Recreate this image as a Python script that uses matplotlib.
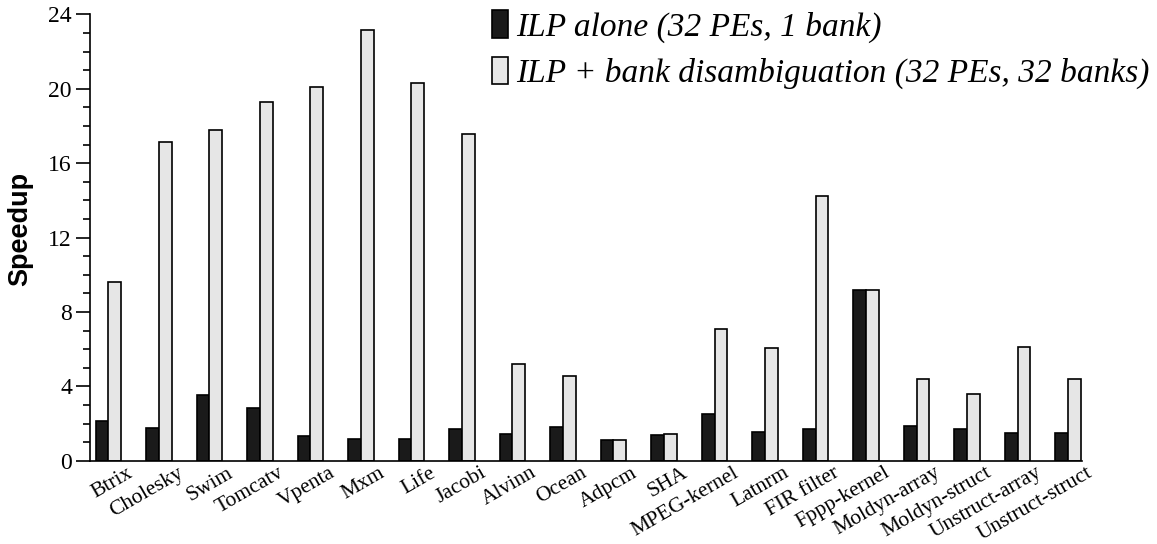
import numpy as np
import matplotlib
matplotlib.use('Agg')
import matplotlib.pyplot as plt
from matplotlib.patches import Patch
from matplotlib.ticker import MultipleLocator
from matplotlib.transforms import ScaledTranslation

# benchmarks and speedups
benchmarks = ['Btrix', 'Cholesky', 'Swim', 'Tomcatv', 'Vpenta', 'Mxm', 'Life',
              'Jacobi', 'Alvinn', 'Ocean', 'Adpcm', 'SHA', 'MPEG-kernel',
              'Latnrm', 'FIR filter', 'Fppp-kernel', 'Moldyn-array',
              'Moldyn-struct', 'Unstruct-array', 'Unstruct-struct']
ilp_alone = [2.12, 1.77, 3.52, 2.82, 1.34, 1.15, 1.17, 1.69, 1.45, 1.80,
             1.13, 1.38, 2.49, 1.53, 1.70, 9.16, 1.87, 1.69, 1.47, 1.47]
ilp_bank = [9.62, 17.15, 17.80, 19.28, 20.10, 23.17, 20.28, 17.57, 5.22, 4.53,
            1.13, 1.43, 7.06, 6.06, 14.25, 9.16, 4.39, 3.59, 6.11, 4.40]
labels = ['ILP alone (32 PEs, 1 bank)',
          'ILP + bank disambiguation (32 PEs, 32 banks)']

W, H = 1157, 544
fig = plt.figure(figsize=(W / 100, H / 100), dpi=100)
ax = fig.add_axes([90 / W, (H - 460.7) / H, 992 / W, 446.4 / H])

x = np.arange(len(benchmarks))
bw = 0.254
dark = '#1a1a1a'
light = '#e6e6e6'
ax.bar(x - bw / 2, ilp_alone, bw, color=dark, edgecolor='black', linewidth=1.2)
ax.bar(x + bw / 2, ilp_bank, bw, color=light, edgecolor='black', linewidth=1.2)

ax.set_xlim(-0.366, 19.277)
ax.set_ylim(0, 24)
ax.yaxis.set_major_locator(MultipleLocator(4))
ax.yaxis.set_minor_locator(MultipleLocator(1))
ax.tick_params(axis='y', which='major', length=10, width=1.2, labelsize=17, pad=3)
ax.tick_params(axis='y', which='minor', length=5, width=1.2)
ax.tick_params(axis='x', length=0, pad=2)
for lbl in ax.get_yticklabels():
    lbl.set_family('Liberation Serif')

ax.set_xticks(x)
ax.set_xticklabels(benchmarks, rotation=30, ha='right', rotation_mode='anchor',
                   fontsize=15.5, family='Liberation Serif')
offset = ScaledTranslation(0.18, 0, fig.dpi_scale_trans)
for lbl in ax.get_xticklabels():
    lbl.set_transform(lbl.get_transform() + offset)

ax.spines['top'].set_visible(False)
ax.spines['right'].set_visible(False)
ax.spines['left'].set_linewidth(1.2)
ax.spines['bottom'].set_linewidth(1.2)

ax.set_ylabel('Speedup', fontsize=19.5, fontweight='bold', family='Liberation Sans')
ax.yaxis.set_label_coords(-57 / 992, 0.52)

handles = [Patch(facecolor=dark, edgecolor='black', linewidth=1.2),
           Patch(facecolor=light, edgecolor='black', linewidth=1.2)]
fig.legend(handles, labels, loc='upper left', bbox_to_anchor=(492 / W, 1 - 10 / H),
           frameon=False, borderpad=0, borderaxespad=0,
           handlelength=0.48, handleheight=0.9, handletextpad=0.24,
           labelspacing=0.42,
           prop={'family': 'Liberation Serif', 'style': 'italic', 'size': 24})

fig.savefig('out.png', dpi=100)
